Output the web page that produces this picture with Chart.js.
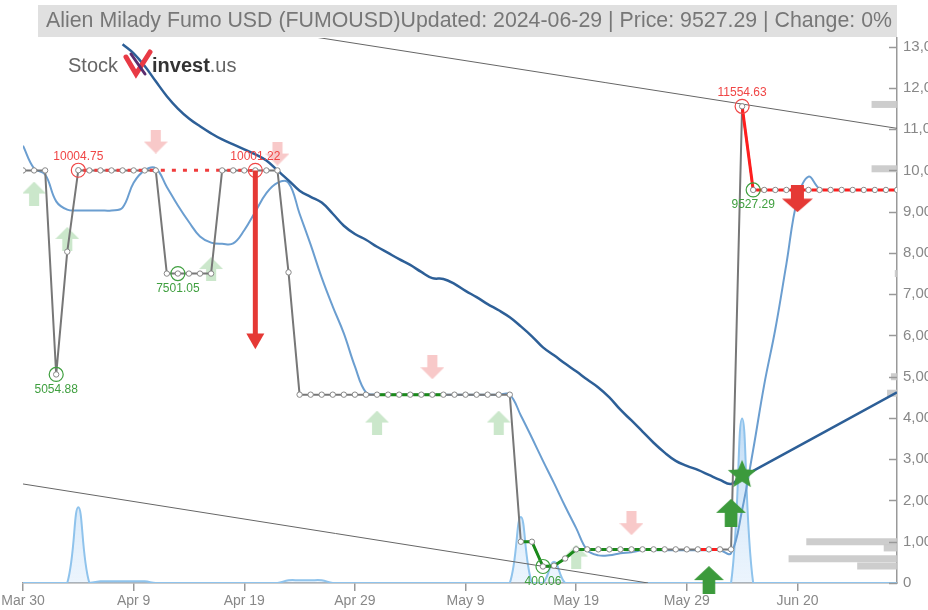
<!DOCTYPE html>
<html>
<head>
<meta charset="utf-8">
<script src="https://cdn.jsdelivr.net/npm/chart.js@4.4.1/dist/chart.umd.min.js"></script>
<style>
  html, body { margin: 0; padding: 0; background: #fff; overflow: hidden; }
  canvas { display: block; }
</style>
</head>
<body>
<canvas id="chart" width="928" height="610" style="width:928px;height:610px"></canvas>
<script>
// x tick labels, one every 10 points
const xTickLabels = ['Mar 30', 'Apr 9', 'Apr 19', 'Apr 29', 'May 9', 'May 19', 'May 29', 'Jun 20'];
// y tick values
const yTickValues = [0, 1000, 2000, 3000, 4000, 5000, 6000, 7000, 8000, 9000, 10000, 11000, 12000, 13000];

// closing price, one value per point
const price = [
  10000, 10000, 10000, 5054.88, 8030, 10004.75, 10000, 10000, 10000, 10000,
  10000, 10000, 10000, 7500, 7501.05, 7500, 7500, 7500, 10000, 10000,
  10000, 10001.22, 10000, 10000, 7530, 4565, 4565, 4565, 4565, 4565,
  4565, 4565, 4565, 4565, 4565, 4565, 4565, 4565, 4565, 4565,
  4565, 4565, 4565, 4565, 4565, 1000, 1000, 400.06, 420, 594,
  815, 815, 815, 815, 815, 815, 815, 815, 815, 815,
  815, 815, 815, 815, 815, 11554.63, 9527.29, 9527.29, 9527.29, 9527.29,
  9527.29, 9527.29, 9527.29, 9527.29, 9527.29, 9527.29, 9527.29, 9527.29, 9527.29, 9527.29
];

// smoothed price (light blue)
const smooth = [
  10600, 10050, 9900, 9250, 9050, 9030, 9030, 9030, 9030, 9100,
  9700, 10000, 10050, 9600, 9150, 8750, 8400, 8250, 8220, 8230,
  8550, 9000, 9450, 9700, 9700, 8950, 8200, 7400, 6700, 6050,
  5250, 4620, 4565, 4565, 4565, 4565, 4565, 4565, 4565, 4565,
  4565, 4565, 4565, 4565, 4565, 4060, 3520, 2960, 2420, 1860,
  1330, 795, 670, 670, 720, 745, 795, 795, 795, 795,
  795, 795, 795, 795, 720, 1770, 3230, 4810, 6150, 7730,
  9310, 9850, 9560, 9527, 9527, 9527, 9527, 9527, 9527, 9527
];

// moving average (dark blue)
const average = [
  null, null, null, null, null, null, null, null, null, 13060,
  12840, 12530, 12160, 11800, 11500, 11260, 11070, 10900, 10750, 10630,
  10510, 10390, 10240, 10000, 9760, 9510, 9360, 9220, 8950, 8660,
  8460, 8320, 8150, 8000, 7850, 7710, 7540, 7390, 7370, 7250,
  7080, 6930, 6760, 6610, 6440, 6220, 5980, 5710, 5520, 5320,
  5130, 4930, 4740, 4500, 4200, 3940, 3670, 3400, 3160, 2960,
  2840, 2740, 2620, 2500, 2400, 2600, 2720, null, null, null,
  null, null, null, null, null, null, null, null, null, 4620
];

// traded volume (relative units)
const volume = [
  0, 0, 0, 0, 0, 13.9, 0, 0.3, 0.3, 0.3,
  0.3, 0.3, 0, 0, 0, 0, 0, 0, 0, 0,
  0, 0, 0, 0, 0.5, 0.5, 0.5, 0.5, 0, 0,
  0, 0, 0, 0, 0, 0, 0, 0, 0, 0,
  0, 0, 0, 0, 0, 12.1, 0, 0, 3.9, 0,
  0, 0, 0, 0, 0, 0, 0, 0, 0, 0,
  0, 0, 0, 0, 0, 30.2, 0, 0, 0, 0,
  0, 0, 0, 0, 0, 0, 0, 0, 0, 0
];

// volume profile on the right edge
const profileLevels = [11600, 10040, 7500, 5000, 4600, 1000, 850, 590, 410];
const profileSizes = [2.3, 2.3, 0.2, 0.55, 0.9, 8.2, 1.2, 9.8, 3.6];

// trend lines [index, value]
const upperTrend = [[26, 13250], [79, 11020]];
const lowerTrend = [[0, 2400], [56.5, 0]];

// marked highs and lows (point indexes)
const highIdx = [5, 21, 65];
const lowIdx = [3, 14, 47, 66];

// signal arrows [index, value]
const fadedDown = [[12, 10700], [23, 10410], [37, 5230], [55, 1450]];
const fadedUp = [[1, 9440], [4, 8340], [17, 7610], [32, 3890], [43, 3890], [50, 640]];
const strongUp = [[62, 70], [64, 1700]];
const strongDown = [[70, 9316]];
const starPoint = [[65, 2646]];
const sellArrow = [[21, 10001.22], [21, 5920]];

const pts = arr => arr.map((v, i) => ({ x: i, y: v }));
const pairs = arr => arr.map(p => ({ x: p[0], y: p[1] }));
const along = (a, b) => price.slice(a, b + 1).map((v, k) => ({ x: a + k, y: v }));
const across = (a, b) => [{ x: a, y: price[a] }, { x: b, y: price[b] }];

function arrowIcon(w, h, color, down) {
  const c = document.createElement('canvas');
  c.width = w; c.height = h;
  const g = c.getContext('2d');
  if (down) { g.translate(0, h); g.scale(1, -1); }
  const head = h * 0.5, shaft = w * 0.42;
  g.fillStyle = color;
  g.beginPath();
  g.moveTo(w / 2, 0);
  g.lineTo(w, head);
  g.lineTo(w / 2 + shaft / 2, head);
  g.lineTo(w / 2 + shaft / 2, h);
  g.lineTo(w / 2 - shaft / 2, h);
  g.lineTo(w / 2 - shaft / 2, head);
  g.lineTo(0, head);
  g.closePath();
  g.fill();
  return c;
}

function starIcon(size, color) {
  const c = document.createElement('canvas');
  c.width = size; c.height = size;
  const g = c.getContext('2d');
  const r = size / 2, ri = r * 0.45;
  g.fillStyle = color;
  g.beginPath();
  for (let k = 0; k < 10; k++) {
    const rad = k % 2 === 0 ? r : ri;
    const a = -Math.PI / 2 + k * Math.PI / 5;
    g.lineTo(r + rad * Math.cos(a), r + 1 + rad * Math.sin(a));
  }
  g.closePath();
  g.fill();
  return c;
}

const profileSets = profileLevels.map((lvl, k) => ({
  data: [{ x: 79 - profileSizes[k], y: lvl }, { x: 79, y: lvl }],
  borderColor: 'rgba(200,200,200,0.9)',
  borderWidth: 7,
  borderCapStyle: 'butt',
  pointRadius: 0,
  order: 90
}));

const overlay = (data, color, dash, offset) => ({
  data,
  borderColor: color,
  borderWidth: 3,
  borderDash: dash || [],
  borderDashOffset: offset || 0,
  pointRadius: 0,
  order: 40
});

const annotationPlugin = {
  id: 'annotations',
  afterDatasetsDraw(chart) {
    const { ctx, scales: { x, y } } = chart;
    ctx.save();
    ctx.font = '12px "Liberation Sans", Arial, sans-serif';
    ctx.textAlign = 'center';
    ctx.textBaseline = 'middle';
    highIdx.forEach(i => {
      ctx.fillStyle = '#f04545';
      ctx.fillText(price[i].toFixed(2), x.getPixelForValue(i), y.getPixelForValue(price[i]) - 14);
    });
    lowIdx.forEach(i => {
      ctx.fillStyle = '#3f9f3f';
      ctx.fillText(price[i].toFixed(2), x.getPixelForValue(i), y.getPixelForValue(price[i]) + 15);
    });
    // inward tick marks on the right axis
    ctx.strokeStyle = '#999';
    ctx.lineWidth = 1.5;
    y.ticks.forEach(t => {
      const py = Math.round(y.getPixelForValue(t.value)) + 0.5;
      ctx.beginPath();
      ctx.moveTo(y.left - 8, py);
      ctx.lineTo(y.left, py);
      ctx.stroke();
    });
    ctx.restore();
  },
  afterDraw(chart) {
    const ctx = chart.ctx;
    ctx.save();
    // title bar
    ctx.fillStyle = '#e0e0e0';
    ctx.fillRect(38, 5, 859, 32);
    ctx.fillStyle = '#777';
    ctx.font = '21.5px "Liberation Sans", Arial, sans-serif';
    ctx.textBaseline = 'middle';
    ctx.textAlign = 'left';
    ctx.fillText('Alien Milady Fumo USD (FUMOUSD)Updated: 2024-06-29 | Price: 9527.29 | Change: 0%', 46, 21, 846);
    // logo
    ctx.textBaseline = 'alphabetic';
    ctx.font = '20px "Liberation Sans", Arial, sans-serif';
    ctx.fillStyle = '#666';
    ctx.fillText('Stock', 68, 72);
    ctx.lineCap = 'round';
    ctx.lineWidth = 5;
    ctx.strokeStyle = '#e83a45';
    ctx.beginPath();
    ctx.moveTo(126, 57); ctx.lineTo(136, 74); ctx.lineTo(150, 52);
    ctx.stroke();
    ctx.lineWidth = 3;
    ctx.strokeStyle = '#5b2d6e';
    ctx.beginPath();
    ctx.moveTo(131, 54); ctx.lineTo(145, 74);
    ctx.stroke();
    ctx.font = 'bold 20px "Liberation Sans", Arial, sans-serif';
    ctx.fillStyle = '#333';
    ctx.fillText('invest', 152, 72);
    const w = ctx.measureText('invest').width;
    ctx.font = '20px "Liberation Sans", Arial, sans-serif';
    ctx.fillStyle = '#666';
    ctx.fillText('.us', 152 + w, 72);
    ctx.restore();
  }
};

const ctx = document.getElementById('chart').getContext('2d');
const volumeFill = ctx.createLinearGradient(0, 400, 0, 583);
volumeFill.addColorStop(0, 'rgba(130,185,235,0.55)');
volumeFill.addColorStop(1, 'rgba(200,225,250,0.35)');

new Chart(ctx, {
  type: 'line',
  data: {
    datasets: [
      // star and arrows on top
      { data: pairs(starPoint), showLine: false, pointStyle: starIcon(30, '#3c9a3c'), pointRadius: 15, order: 1, clip: false },
      { data: pairs(sellArrow), borderColor: '#e53935', borderWidth: 5, borderCapStyle: 'butt',
        pointRadius: [0, 10.4], pointStyle: 'triangle', pointRotation: 180,
        pointBackgroundColor: '#e53935', pointBorderColor: '#e53935', pointBorderWidth: 0, order: 2 },
      { data: pairs(strongUp), showLine: false, pointStyle: arrowIcon(30, 28, '#3c9a3c', false), pointRadius: 14, order: 3, clip: false },
      { data: pairs(strongDown), showLine: false, pointStyle: arrowIcon(31, 27, '#e53935', true), pointRadius: 14, order: 3, clip: false },
      // highs and lows
      { data: highIdx.map(i => ({ x: i, y: price[i] })), showLine: false, pointRadius: 7,
        pointBackgroundColor: 'rgba(0,0,0,0)', pointBorderColor: '#f04545', pointBorderWidth: 1.2, order: 10 },
      { data: lowIdx.map(i => ({ x: i, y: price[i] })), showLine: false, pointRadius: 7,
        pointBackgroundColor: 'rgba(0,0,0,0)', pointBorderColor: '#3f9f3f', pointBorderWidth: 1.2, order: 10 },
      // price markers above the signal overlays
      { data: pts(price), showLine: false, pointRadius: 2.7, pointBackgroundColor: '#fff',
        pointBorderColor: '#888', pointBorderWidth: 1, order: 20 },
      // signal overlays
      overlay(across(5, 21), '#f03c3c', [4, 7.07], -5),
      overlay(across(32, 38), '#1a8a1a', [6, 5.07], -3),
      overlay(along(45, 50), '#1a8a1a'),
      overlay(across(50, 58), '#1a8a1a', [6, 5.07], -3),
      overlay(across(61, 63), '#ff1e1e', [6, 5.07], -3),
      overlay(along(65, 66), '#ff1e1e'),
      overlay(across(66, 79), '#ff1e1e', [6, 5.07], -3),
      // price line
      { data: pts(price), borderColor: '#777', borderWidth: 2, pointRadius: 0, order: 50 },
      // moving average
      { data: pts(average), borderColor: '#2d5f97', borderWidth: 2.5, pointRadius: 0,
        tension: 0.4, spanGaps: true, order: 60 },
      // smoothed price
      { data: pts(smooth), borderColor: '#6b9ed0', borderWidth: 2, pointRadius: 0, tension: 0.4, order: 70 },
      // faded signals
      { data: pairs(fadedDown), showLine: false, pointStyle: arrowIcon(24, 24, 'rgba(244,165,165,0.6)', true), pointRadius: 12, order: 75 },
      { data: pairs(fadedUp), showLine: false, pointStyle: arrowIcon(24, 24, 'rgba(160,212,160,0.55)', false), pointRadius: 12, order: 75 },
      // trend lines
      { data: pairs(upperTrend), borderColor: '#666', borderWidth: 1, pointRadius: 0, order: 80 },
      { data: pairs(lowerTrend), borderColor: '#666', borderWidth: 1, pointRadius: 0, order: 80 },
      ...profileSets,
      // volume
      { data: pts(volume), yAxisID: 'yv', borderColor: '#8fc3ec', borderWidth: 2, pointRadius: 0,
        tension: 0.4, fill: 'origin', backgroundColor: volumeFill, order: 100 }
    ]
  },
  options: {
    responsive: false,
    animation: false,
    events: [],
    layout: { padding: { left: 23, top: 38, right: 0, bottom: 0 } },
    plugins: { legend: { display: false }, tooltip: { enabled: false } },
    scales: {
      x: {
        type: 'linear',
        min: 0,
        max: 79,
        afterFit(s) { s.paddingLeft = 0; s.paddingRight = 0; s.height = 27; },
        grid: { drawOnChartArea: false, tickLength: 8, color: '#999', lineWidth: 1.5 },
        border: { color: '#999', width: 1.5 },
        ticks: {
          stepSize: 10,
          maxRotation: 0,
          autoSkip: false,
          padding: 2,
          color: '#888',
          font: { size: 14, family: '"Liberation Sans", Arial, sans-serif' },
          callback: v => xTickLabels[v / 10]
        }
      },
      y: {
        position: 'right',
        min: 0,
        max: 13210,
        afterFit(s) { s.width = 31; },
        afterBuildTicks(s) { s.ticks = yTickValues.map(v => ({ value: v })); },
        grid: { drawOnChartArea: false, drawTicks: false },
        border: { color: '#999', width: 1.5 },
        ticks: {
          padding: 6,
          color: '#888',
          font: { size: 15, family: '"Liberation Sans", Arial, sans-serif' }
        }
      },
      yv: { display: false, min: 0, max: 100 }
    }
  },
  plugins: [annotationPlugin]
});
</script>
</body>
</html>
